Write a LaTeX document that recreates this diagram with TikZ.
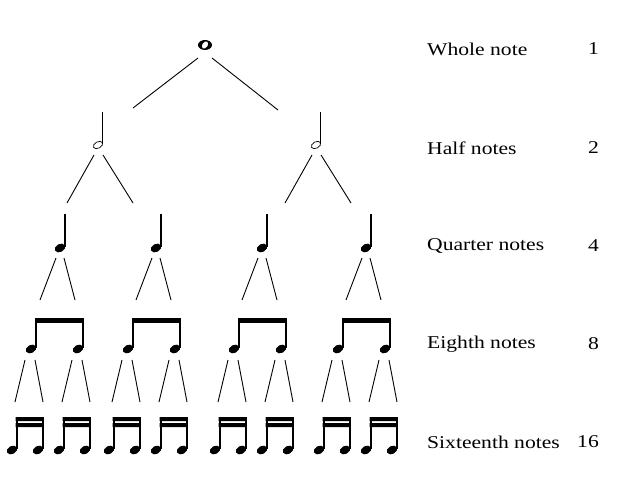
\documentclass[tikz,border=0pt]{standalone}
\usepackage{fontspec}
\setmainfont{Liberation Serif}[FakeStretch=1.2]
\usetikzlibrary{calc, positioning}
\tikzset{
  link/.style={line width=0.9pt},
  lbl/.style={anchor=west, font=\fontsize{18}{21}\selectfont, inner sep=0pt},
  cnt/.style={anchor=east, font=\fontsize{18}{21}\selectfont, inner sep=0pt},
  notehead/.style={fill=black, rotate=28},
  wholenote/.pic={\fill[even odd rule] (0,0) ellipse (7 and 5) (0,0) ellipse [x radius=2.8, y radius=4, rotate=-35];},
  halfnote/.pic={\draw[line width=0.7pt, rotate=28] (0,0) ellipse (5 and 3.2);
                 \draw[line width=1.4pt] (4.4,-1) -- (4.4,-33);},
  quarternote/.pic={\fill[notehead] (0,0) ellipse (5.5 and 4);
                    \draw[line width=1.8pt] (4.6,-1) -- (4.6,-34);},
  eighthpair/.pic={\fill[notehead] (0,0) ellipse (5.5 and 4); \fill[shift={(47,0)}, notehead] (0,0) ellipse (5.5 and 4);
                   \draw[line width=1.8pt] (4.6,-1) -- (4.6,-31) (51.6,-1) -- (51.6,-31);
                   \fill (3.7,-31) rectangle (52.5,-26);},
  sixteenthpair/.pic={\fill[notehead] (0,0) ellipse (5.5 and 4); \fill[shift={(26,0)}, notehead] (0,0) ellipse (5.5 and 4);
                   \draw[line width=1.8pt] (4.6,-1) -- (4.6,-33) (30.6,-1) -- (30.6,-33);
                   \fill (3.7,-33) rectangle (31.5,-29) (3.7,-27) rectangle (31.5,-23);},
}
\begin{document}
\begin{tikzpicture}[x=1pt, y=-1pt]
  \useasboundingbox (0,0) rectangle (618,478);
  % notes
  \node[inner sep=0pt] (w) at (205,45) {}; \pic at (w) {wholenote};
  \foreach \n/\x in {1/98, 2/316}{
    \node[inner sep=0pt] (h\n) at (\x,145) {}; \pic at (h\n) {halfnote};}
  \foreach \n/\x in {1/60, 2/156, 3/262, 4/366}{
    \node[inner sep=0pt] (q\n) at (\x,248) {}; \pic at (q\n) {quarternote};}
  \foreach \n/\x in {1/31, 2/128, 3/234, 4/338}{
    \pic at (\x,349) {eighthpair};}
  \foreach \n/\x in {1/31, 2/78, 3/128, 4/175, 5/234, 6/281, 7/338, 8/385}{
    \node[inner sep=0pt] (e\n) at (\x,349) {};
    \node[inner sep=0pt] (s\n) at ($(\x,450)+(-19,0)$) {}; \pic at (s\n) {sixteenthpair};}
  % connectors
  \draw[link] ($(w)+(-7,13)$) -- ($(w)+(-72,63)$);
  \draw[link] ($(w)+(7,13)$) -- ($(w)+(73,65)$);
  \foreach \n in {1,2}{
    \draw[link] ($(h\n)+(-4,10)$) -- ($(h\n)+(-31,58)$);
    \draw[link] ($(h\n)+(5,10)$) -- ($(h\n)+(35,58)$);}
  \foreach \n in {1,...,4}{
    \draw[link] ($(q\n)+(-4,10)$) -- ($(q\n)+(-20,52)$);
    \draw[link] ($(q\n)+(4,10)$) -- ($(q\n)+(15,52)$);}
  \foreach \n in {1,...,8}{
    \draw[link] ($(e\n)+(-6,11)$) -- ($(e\n)+(-16,53)$);
    \draw[link] ($(e\n)+(4,11)$) -- ($(e\n)+(12,53)$);}
  % labels
  \foreach \t/\c/\y in {Whole note/1/49, Half notes/2/148, Quarter notes/4/246, Eighth notes/8/344, Sixteenth notes/16/442}{
    \node[lbl] at (427,\y) {\t};
    \node[cnt] at (599,\y) {\c};}
\end{tikzpicture}
\end{document}
